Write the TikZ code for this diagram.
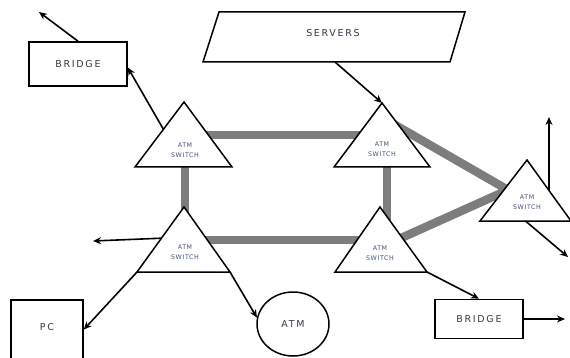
\documentclass[tikz,border=0pt]{standalone}
\usepackage{fontspec}
\newfontfamily\lab[LetterSpace=18]{DejaVu Sans}
\newfontfamily\labsw[LetterSpace=10]{DejaVu Sans}
\usetikzlibrary{arrows.meta,shapes.geometric,calc}
\definecolor{trunkgray}{RGB}{125,125,125}
\definecolor{txt}{RGB}{55,55,70}
\definecolor{swtxt}{RGB}{65,85,125}
\begin{document}
\begin{tikzpicture}[x=1pt,y=-1pt,
  lbl/.style={font=\lab\fontsize{9.5}{10}\selectfont,text=txt,inner sep=0pt},
  box/.style={draw=black,line width=1.5pt,fill=white,inner sep=0pt,font=\lab\fontsize{9.5}{10}\selectfont,text=txt},
  tri/.style={draw=black,line width=1.5pt,fill=white,line join=miter},
  trunk/.style={draw=trunkgray,line width=8.5pt,line join=miter},
  link/.style={draw=black,line width=1.6pt,-{Stealth[length=8pt,width=7pt]}},
  swlabel/.style={font=\labsw\fontsize{6.3}{10}\selectfont,text=swtxt,align=center,inner sep=0pt}]
\useasboundingbox (0,0) rectangle (570,358);
\clip (0,0) rectangle (570,358);

% triangle vertices
\coordinate (tlA) at (184,102); \coordinate (tlL) at (135,167); \coordinate (tlR) at (232,167);
\coordinate (trA) at (382,103); \coordinate (trL) at (334,167); \coordinate (trR) at (430,167);
\coordinate (blA) at (184,207); \coordinate (blL) at (137,272); \coordinate (blR) at (230,272);
\coordinate (brA) at (380,207); \coordinate (brL) at (335,272); \coordinate (brR) at (427,272);
\coordinate (rA) at (527,160);  \coordinate (rL) at (480,221);  \coordinate (rR) at (571,221);

% trunk end points
\coordinate (tkTLh) at (185,135); \coordinate (tkTRh) at (382,135);
\coordinate (tkTLv) at (185,150); \coordinate (tkBLv) at (185,240);
\coordinate (tkBLh) at (184,240); \coordinate (tkBRh) at (382,240);
\coordinate (tkTRv) at (387,140); \coordinate (tkBRv) at (387,240);
\coordinate (tkTRd) at (390,122); \coordinate (tkR) at (508,190); \coordinate (tkBRd) at (390,243);

% thick gray trunks
\draw[trunk] (tkTLh) -- (tkTRh);
\draw[trunk] (tkTLv) -- (tkBLv);
\draw[trunk] (tkBLh) -- (tkBRh);
\draw[trunk] (tkTRv) -- (tkBRv);
\draw[trunk] (tkTRd) -- (tkR) -- (tkBRd);

% switches
\draw[tri] (tlA) -- (tlL) -- (tlR) -- cycle;
\draw[tri] (trA) -- (trL) -- (trR) -- cycle;
\draw[tri] (blA) -- (blL) -- (blR) -- cycle;
\draw[tri] (brA) -- (brL) -- (brR) -- cycle;
\draw[tri] (rA) -- (rL) -- (rR) -- cycle;
\node[swlabel] (swTL) at (185,150) {ATM\\SWITCH};
\node[swlabel] (swTR) at (382,149) {ATM\\SWITCH};
\node[swlabel] (swBL) at (185,252) {ATM\\SWITCH};
\node[swlabel] (swBR) at (380,253) {ATM\\SWITCH};
\node[swlabel] (swR) at (527,202) {ATM\\SWITCH};

% servers
\coordinate (s1) at (219,12); \coordinate (s2) at (465,12);
\coordinate (s3) at (450,62); \coordinate (s4) at (203,62);
\coordinate (srvB) at (335,62);
\draw[tri] (s1) -- (s2) -- (s3) -- (s4) -- cycle;
\node[lbl] (srv) at (333,33) {SERVERS};

% boxes
\node[box,minimum width=98pt,minimum height=44pt] (bA) at (78,64) {BRIDGE};
\node[box,minimum width=88pt,minimum height=39pt] (bB) at (479,319) {BRIDGE};
\node[box,minimum width=72pt,minimum height=70pt,anchor=north] (pc) at (47,299) {};
\node[lbl] (pct) at (47,327) {PC};
\node[draw=black,line width=1.5pt,ellipse,minimum width=72pt,minimum height=64pt,inner sep=0pt,font=\lab\fontsize{9.5}{10}\selectfont,text=txt] (atm) at (293,324) {ATM};

% free ends and tails
\coordinate (c1) at (39,12);
\coordinate (c2) at (93,241);
\coordinate (c3) at (565,319);
\coordinate (c4) at (549,117);
\coordinate (c5) at (568,257);
\coordinate (tlT) at ($(tlA)!0.42!(tlL)$);
\coordinate (blT) at ($(blA)!0.48!(blL)$);
\coordinate (rU) at (549,190);
\coordinate (rB) at ($(rL)!0.5!(rR)$);

% connectors
\draw[link] (bA.north) -- (c1);
\draw[link] (tlT) -- (bA.-4);
\draw[link] (srvB) -- (trA);
\draw[link] (blT) -- (c2);
\draw[link] (blL) -- (pc.8);
\draw[link] (blR) -- (atm.170);
\draw[link] (brR) -- (bB.north);
\draw[link] (bB.east) -- (c3);
\draw[link] (rU) -- (c4);
\draw[link] (rB) -- (c5);
\end{tikzpicture}
\end{document}
